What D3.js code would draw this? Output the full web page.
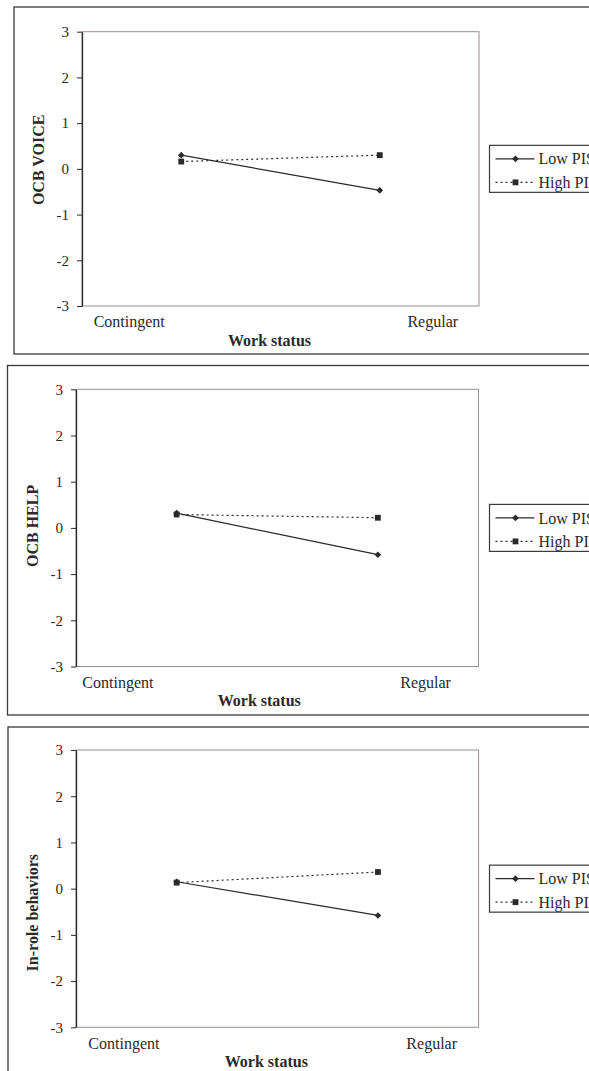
<!DOCTYPE html>
<html>
<head>
<meta charset="utf-8">
<script src="https://cdn.jsdelivr.net/npm/d3@7"></script>
<style>
  html, body { margin: 0; padding: 0; background: #fff; overflow: hidden; }
  svg { display: block; }
  text { font-family: "Liberation Serif", "Times New Roman", serif; fill: #2a2a2a; }
</style>
</head>
<body>
<svg id="chart" width="589" height="1071"></svg>
<script>
// ---- data ----
const categories = ["Contingent", "Regular"];
const seriesNames = ["Low PIS", "High PIS"];
const yTicks = [-3, -2, -1, 0, 1, 2, 3];
const yTitles = ["OCB VOICE", "OCB HELP", "In-role behaviors"];
const xTitle = "Work status";
const voiceLow = [0.30, -0.47];
const voiceHigh = [0.16, 0.30];
const helpLow = [0.32, -0.58];
const helpHigh = [0.29, 0.22];
const inroleLow = [0.15, -0.58];
const inroleHigh = [0.13, 0.36];

const panelValues = [
  [voiceLow, voiceHigh],
  [helpLow, helpHigh],
  [inroleLow, inroleHigh]
];

// ---- layout (style only) ----
const layout = [
  { fx: 14, fy: 7, fb: 354, l: 82, r: 479, t: 31.7, b: 306, ytDy: -9, xlShift: 0, xtShift: -11 },
  { fx: 7.5, fy: 365.5, fb: 715, l: 76, r: 478.5, t: 389.3, b: 666.5, ytDy: -2, xlShift: -6, xtShift: -18 },
  { fx: 8, fy: 727, fb: 1090, l: 76, r: 478.6, t: 750, b: 1027.3, ytDy: 24, xlShift: 0, xtShift: -11 }
];

const svg = d3.select("#chart");
const ink = "#2a2a2a";

panelValues.forEach((vals, i) => {
  const L = layout[i];
  const g = svg.append("g");

  // outer frame
  g.append("rect")
    .attr("x", L.fx).attr("y", L.fy)
    .attr("width", 700).attr("height", L.fb - L.fy)
    .attr("fill", "none").attr("stroke", "#3a3a3a").attr("stroke-width", 1.3);

  const y = d3.scaleLinear().domain([-3, 3]).range([L.b, L.t]);
  const x = d3.scalePoint().domain(categories).range([L.l, L.r]).padding(0.5);
  const xl = d3.scalePoint().domain(categories).range([L.l, L.r]).padding(0.154);

  // plot area border
  g.append("rect")
    .attr("x", L.l).attr("y", L.t)
    .attr("width", L.r - L.l).attr("height", L.b - L.t)
    .attr("fill", "none").attr("stroke", "#9b8e8e").attr("stroke-width", 1);

  // y axis
  const ya = g.append("g")
    .attr("transform", `translate(${L.l},0)`)
    .call(d3.axisLeft(y).tickValues(yTicks).tickSize(5).tickSizeOuter(0).tickPadding(8).tickFormat(d3.format("d")));
  ya.select(".domain").attr("stroke", ink).attr("stroke-width", 1.3);
  ya.selectAll(".tick line").attr("stroke", ink).attr("stroke-width", 1);
  ya.selectAll(".tick text").attr("font-size", 15).attr("fill", ink)
    .style("font-family", "'Liberation Serif', serif").text(d => d < 0 ? "-" + Math.abs(d) : d);

  // x axis labels
  const xa = g.append("g")
    .attr("transform", `translate(${L.xlShift},${L.b})`)
    .call(d3.axisBottom(xl).tickSize(0).tickPadding(10));
  xa.select(".domain").remove();
  xa.selectAll(".tick text").attr("font-size", 16).attr("fill", ink)
    .style("font-family", "'Liberation Serif', serif");

  // x title
  g.append("text")
    .attr("x", (L.l + L.r) / 2 + L.xtShift).attr("y", L.b + 39.5)
    .attr("text-anchor", "middle").attr("font-size", 16).attr("font-weight", "bold")
    .text(xTitle);

  // y title
  const cy = (L.t + L.b) / 2 + L.ytDy;
  g.append("text")
    .attr("transform", `translate(${L.l - 44},${cy}) rotate(-90)`)
    .attr("text-anchor", "middle").attr("dy", "0.35em")
    .attr("font-size", 16).attr("font-weight", "bold")
    .text(yTitles[i]);

  // series
  const line = d3.line().x((d, j) => x(categories[j])).y(d => y(d));
  const symbols = [d3.symbolSquare, d3.symbolSquare];
  const symSizes = [22, 34];
  const rot = [45, 0];
  const dashes = [null, "2,3"];
  vals.forEach((s, k) => {
    g.append("path").datum(s)
      .attr("d", line).attr("fill", "none")
      .attr("stroke", ink).attr("stroke-width", 1.2)
      .attr("stroke-dasharray", dashes[k]);
    g.selectAll(null).data(s).enter().append("path")
      .attr("transform", (d, j) => `translate(${x(categories[j])},${y(d)}) rotate(${rot[k]})`)
      .attr("d", d3.symbol().type(symbols[k]).size(symSizes[k]))
      .attr("fill", ink);
  });

  // legend
  const lx = 489.5, lh = 47;
  const ly = y(0) - lh / 2;
  const lg = g.append("g");
  lg.append("rect").attr("x", lx).attr("y", ly).attr("width", 200).attr("height", lh)
    .attr("fill", "#fff").attr("stroke", "#3a3a3a").attr("stroke-width", 1.2);
  seriesNames.forEach((nm, k) => {
    const yy = ly + 13.5 + k * 23.5;
    lg.append("line").attr("x1", lx + 6).attr("x2", lx + 45).attr("y1", yy).attr("y2", yy)
      .attr("stroke", ink).attr("stroke-width", 1.2).attr("stroke-dasharray", dashes[k]);
    lg.append("path").attr("transform", `translate(${lx + 26},${yy}) rotate(${rot[k]})`)
      .attr("d", d3.symbol().type(symbols[k]).size(symSizes[k])).attr("fill", ink);
    lg.append("text").attr("x", lx + 49).attr("y", yy).attr("dy", "0.35em")
      .attr("font-size", 16).text(nm);
  });
});
</script>
</body>
</html>
